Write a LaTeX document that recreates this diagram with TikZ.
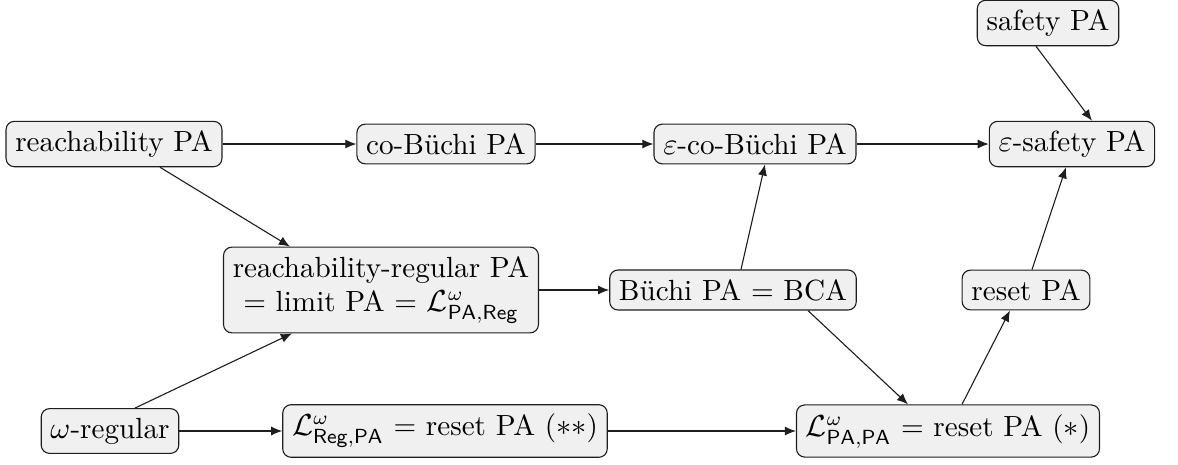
\documentclass[tikz,border=0pt]{standalone}
\usepackage{fontspec}
\usepackage{amsmath}
\usepackage{tikz}
\usetikzlibrary{positioning}
\usetikzlibrary{calc}
\usetikzlibrary{arrows.meta}
\definecolor{boxfill}{RGB}{240,240,240}
\definecolor{boxline}{RGB}{30,30,30}

\begin{document}
\begin{tikzpicture}[x=0.36pt, y=-0.36pt,
    pa/.style={draw=boxline, fill=boxfill, rounded corners=3pt, align=center,
        font=\fontsize{10.5pt}{12.3pt}\selectfont},
    imp/.style={-{Latex[length=4pt,width=3.3pt]}, boxline}]
    \useasboundingbox (0,0) rectangle (1178,464);

    % Define the classes
    \node[pa] (reach) at (114,144) {reachability PA};
    \node[pa] (cob) at (446,144) {co-Büchi PA};
    \node[pa] (ecob) at (755,144) {$\varepsilon$-co-Büchi PA};
    \node[pa] (esafe) at (1072,144) {$\varepsilon$-safety PA};
    \node[pa] (safe) at (1048,23) {safety PA};
    \node[pa] (rreg) at (381,290) {reachability-regular PA\\ = limit PA = $\mathcal{L}^{\omega}_{\mathsf{PA,Reg}}$};
    \node[pa] (buchi) at (733,290) {Büchi PA = BCA};
    \node[pa] (reset) at (1026,290) {reset PA};
    \node[pa] (oreg) at (110,431) {$\omega$-regular};
    \node[pa] (lreg) at (445,431) {$\mathcal{L}^{\omega}_{\mathsf{Reg,PA}}$ = reset PA ($**$)};
    \node[pa] (lpapa) at (948,431) {$\mathcal{L}^{\omega}_{\mathsf{PA,PA}}$ = reset PA ($*$)};

    % Draw inclusions
    \draw[imp] (reach) -- (cob);
    \draw[imp] (cob) -- (ecob);
    \draw[imp] (ecob) -- (esafe);
    \draw[imp] ($(safe.south)+(-12,0)$) -- ($(esafe.north)+(20,0)$);
    \draw[imp] ($(reach.south)+(46,0)$) -- ($(rreg.north)+(-91,0)$);
    \draw[imp] ($(oreg.north)+(25,0)$) -- ($(rreg.south)+(-89,0)$);
    \draw[imp] (rreg) -- (buchi);
    \draw[imp] ($(buchi.north)+(8,0)$) -- ($(ecob.south)+(10,0)$);
    \draw[imp] ($(buchi.south)+(75,0)$) -- ($(lpapa.north)+(-40,0)$);
    \draw[imp] ($(lpapa.north)+(14,0)$) -- ($(reset.south)+(-16,0)$);
    \draw[imp] ($(reset.north)+(6,0)$) -- ($(esafe.south)+(-6,0)$);
    \draw[imp] (oreg) -- (lreg);
    \draw[imp] (lreg) -- (lpapa);

\end{tikzpicture}
\end{document}
